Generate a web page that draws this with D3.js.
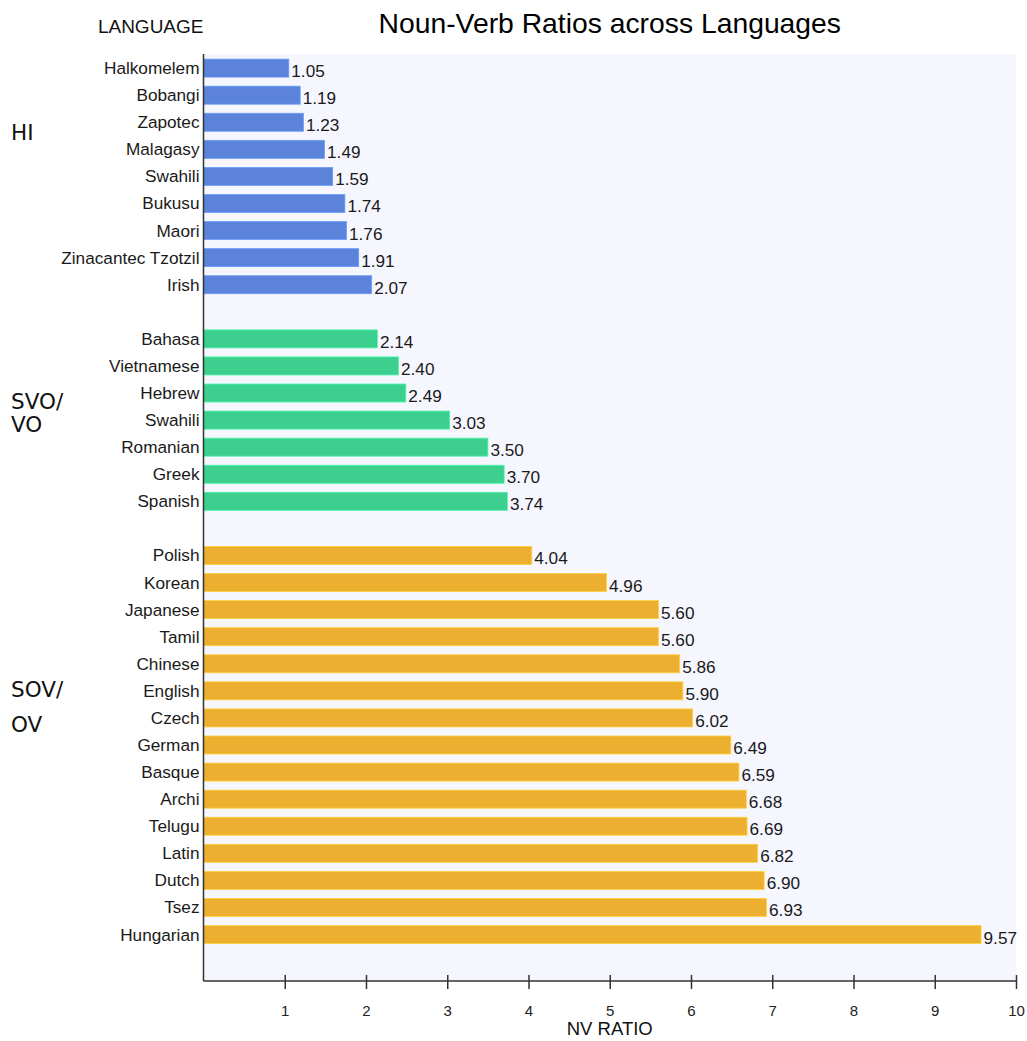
<!DOCTYPE html>
<html>
<head>
<meta charset="utf-8">
<script src="https://cdn.jsdelivr.net/npm/d3@7"></script>
<style>
  html, body { margin: 0; padding: 0; background: #ffffff; }
  svg { display: block; }
</style>
</head>
<body>
<svg id="chart" width="1027" height="1041"></svg>
<script>
// ---- data ----
const hiLanguages  = ["Halkomelem","Bobangi","Zapotec","Malagasy","Swahili","Bukusu","Maori","Zinacantec Tzotzil","Irish"];
const hiValues     = [1.05, 1.19, 1.23, 1.49, 1.59, 1.74, 1.76, 1.91, 2.07];
const svoLanguages = ["Bahasa","Vietnamese","Hebrew","Swahili","Romanian","Greek","Spanish"];
const svoValues    = [2.14, 2.40, 2.49, 3.03, 3.50, 3.70, 3.74];
const sovLanguages = ["Polish","Korean","Japanese","Tamil","Chinese","English","Czech","German","Basque","Archi","Telugu","Latin","Dutch","Tsez","Hungarian"];
const sovValues    = [4.04, 4.96, 5.60, 5.60, 5.86, 5.90, 6.02, 6.49, 6.59, 6.68, 6.69, 6.82, 6.90, 6.93, 9.57];
const groupNames   = ["HI", "SVO/VO", "SOV/OV"];
const groupLabelLines = [["HI"], ["SVO/", "VO"], ["SOV/", "OV"]];
const groupColors  = ["#5a83d9", "#3ccf8e", "#ecaf30"];
const xTicks       = [1,2,3,4,5,6,7,8,9,10];
const titleText    = "Noun-Verb Ratios across Languages";
const yAxisTitle   = "LANGUAGE";
const xAxisTitle   = "NV RATIO";

// ---- build rows (with spacer slots between groups) ----
const groups = [
  {name: groupNames[0], langs: hiLanguages,  vals: hiValues},
  {name: groupNames[1], langs: svoLanguages, vals: svoValues},
  {name: groupNames[2], langs: sovLanguages, vals: sovValues}
];
const rows = [];
const slots = [];
groups.forEach((g, gi) => {
  if (gi > 0) slots.push("gap" + gi);
  g.langs.forEach((l, i) => {
    const key = g.name + "|" + l;
    slots.push(key);
    rows.push({key, lang: l, value: g.vals[i], group: gi});
  });
});

// ---- layout ----
const svg = d3.select("#chart");
const plotLeft = 203.5, plotRight = 1016, plotTop = 54, plotBottom = 981;
const FONT = "'Liberation Sans', Arial, Helvetica, sans-serif";

const x = d3.scaleLinear().domain([0, 10]).range([plotLeft, plotRight]);
const y = d3.scaleBand().domain(slots).range([plotTop + 0.5, plotTop + 0.5 + 27.08 * slots.length])
  .paddingInner(0.335).paddingOuter(0.17);

// background
svg.append("rect")
  .attr("x", plotLeft).attr("y", plotTop)
  .attr("width", plotRight - plotLeft).attr("height", plotBottom - plotTop)
  .attr("fill", "#f6f6fe");

// bars
svg.append("g").selectAll("rect").data(rows).join("rect")
  .attr("x", x(0))
  .attr("y", d => y(d.key))
  .attr("width", d => x(d.value) - x(0))
  .attr("height", y.bandwidth())
  .attr("fill", d => groupColors[d.group])
  .attr("stroke", d => d3.color(groupColors[d.group]).brighter(0.5))
  .attr("stroke-width", 0.8);

// value labels
svg.append("g").selectAll("text").data(rows).join("text")
  .attr("x", d => x(d.value) + 2.5)
  .attr("y", d => y(d.key) + y.bandwidth() / 2 + 9)
  .attr("font-family", FONT).attr("font-size", 17.2)
  .attr("fill", "#1a1a1a")
  .text(d => d.value.toFixed(2));

// category labels
svg.append("g").selectAll("text").data(rows).join("text")
  .attr("x", plotLeft - 4)
  .attr("y", d => y(d.key) + y.bandwidth() / 2 + 6)
  .attr("text-anchor", "end")
  .attr("font-family", FONT).attr("font-size", 17.2)
  .attr("fill", "#1a1a1a")
  .text(d => d.lang);

// group labels
const groupAnchors = [
  {key: groupNames[0] + "|" + hiLanguages[2],  dy: 18, lh: 0},
  {key: groupNames[1] + "|" + svoLanguages[2], dy: 16, lh: 23},
  {key: groupNames[2] + "|" + sovLanguages[5], dy: 6.5, lh: 35}
];
groupLabelLines.forEach((lines, gi) => {
  const a = groupAnchors[gi];
  const base = y(a.key) + y.bandwidth() / 2 + a.dy;
  lines.forEach((t, li) => {
    svg.append("text")
      .attr("x", 11)
      .attr("y", base + li * a.lh)
      .attr("font-family", "'DejaVu Sans', Verdana, sans-serif")
      .attr("font-size", 21.5)
      .attr("fill", "#111")
      .text(t);
  });
});

// left axis line
svg.append("line")
  .attr("x1", plotLeft).attr("x2", plotLeft)
  .attr("y1", plotTop).attr("y2", plotBottom)
  .attr("stroke", "#333").attr("stroke-width", 1.5);

// bottom axis
const xAxis = d3.axisBottom(x).tickValues(xTicks).tickSize(8).tickFormat(d3.format("d")).tickPadding(16);
const gx = svg.append("g").attr("transform", `translate(0,${plotBottom})`).call(xAxis);
gx.attr("font-size", null).attr("font-family", null);
gx.select(".domain").attr("stroke", "#333").attr("stroke-width", 1.5)
  .attr("d", `M${plotLeft},0H${plotRight}`);
gx.selectAll(".tick line").attr("y1", -6).attr("stroke", "#333").attr("stroke-width", 1.5);
gx.selectAll(".tick text")
  .style("font-family", FONT).style("font-size", "15px").attr("fill", "#222");

// titles
svg.append("text")
  .attr("x", (plotLeft + plotRight) / 2).attr("y", 33)
  .attr("text-anchor", "middle")
  .attr("font-family", FONT).attr("font-size", 28.3)
  .attr("fill", "#000")
  .text(titleText);

svg.append("text")
  .attr("x", plotLeft).attr("y", 33)
  .attr("text-anchor", "end")
  .attr("font-family", FONT).attr("font-size", 19)
  .attr("fill", "#111")
  .text(yAxisTitle);

svg.append("text")
  .attr("x", (plotLeft + plotRight) / 2).attr("y", 1035)
  .attr("text-anchor", "middle")
  .attr("font-family", FONT).attr("font-size", 18.5)
  .attr("fill", "#111")
  .text(xAxisTitle);
</script>
</body>
</html>
